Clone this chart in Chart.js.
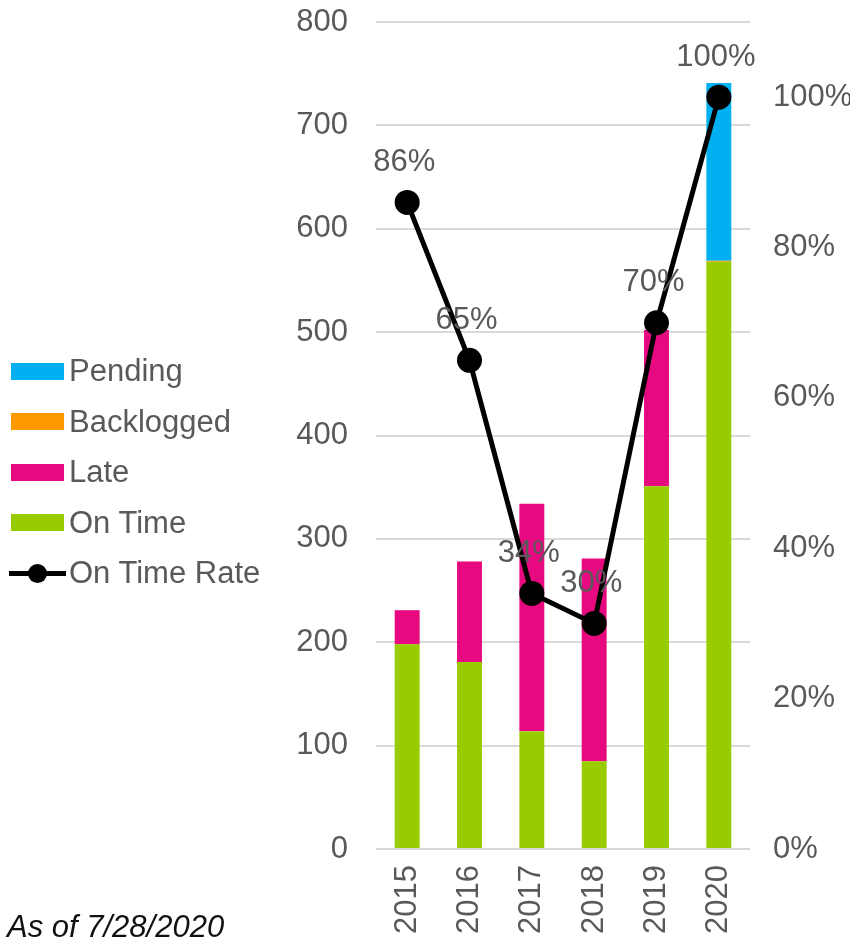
<!DOCTYPE html>
<html>
<head>
<meta charset="utf-8">
<script src="https://cdn.jsdelivr.net/npm/chart.js@4.4.1/dist/chart.umd.min.js"></script>
<style>
    html, body { margin: 0; padding: 0; background: #fff; overflow: hidden; }
    #wrap { position: relative; width: 861px; height: 943px; overflow: hidden; font-family: "Liberation Sans", Arial, sans-serif; }
    #chart { position: absolute; left: 0; top: 0; }
    #legend { position: absolute; left: 9px; top: 346px; }
    .item { height: 50.5px; display: flex; align-items: center; font-size: 31px; color: #595959; }
    .box { width: 53px; height: 17px; margin: 0 5px 0 2px; }
    .lineKey { position: relative; width: 57px; height: 17px; margin-right: 3px; }
    .lineKey .ln { position: absolute; left: 0; right: 0; top: 6px; height: 5px; background: #000; }
    .lineKey .dot { position: absolute; left: 19px; top: -1px; width: 19px; height: 19px; border-radius: 50%; background: #000; }
    #note { position: absolute; left: 7px; top: 911px; font-size: 31px; line-height: 31px; font-style: italic; color: #111; }
</style>
</head>
<body>
<div id="wrap">
    <canvas id="chart" width="861" height="943"></canvas>
    <div id="legend"></div>
    <div id="note">As of 7/28/2020</div>
</div>
<script>
const years = ["2015", "2016", "2017", "2018", "2019", "2020"];
const onTime = [198, 181, 114, 85, 351, 568];
const late = [33, 97, 220, 196, 151, 0];
const backlogged = [0, 0, 0, 0, 0, 1];
const pending = [0, 0, 0, 0, 0, 172];
const onTimeRate = [86, 65, 34, 30, 70, 100];

const tickColor = "#595959";
const font = { family: "'Liberation Sans', Arial, sans-serif", size: 31 };

// percentage labels above the line points
const rateLabels = {
    id: "rateLabels",
    afterDatasetsDraw(chart) {
        const ctx = chart.ctx;
        const meta = chart.getDatasetMeta(4);
        ctx.save();
        ctx.font = "31px 'Liberation Sans', Arial, sans-serif";
        ctx.fillStyle = tickColor;
        ctx.textAlign = "center";
        ctx.textBaseline = "middle";
        meta.data.forEach(function (pt, i) {
            ctx.fillText(onTimeRate[i] + "%", pt.x - 3, pt.y - 40);
        });
        ctx.restore();
    }
};

// fixed axis sizes, no automatic label padding
function fitV(w) {
    return function (s) { s.width = w; s.paddingTop = 0; s.paddingBottom = 0; };
}

new Chart(document.getElementById("chart").getContext("2d"), {
    type: "bar",
    data: {
        labels: years,
        datasets: [
            { label: "On Time", data: onTime, backgroundColor: "#99cc00", order: 1 },
            { label: "Late", data: late, backgroundColor: "#e6097f", order: 1 },
            { label: "Backlogged", data: backlogged, backgroundColor: "#ff9900", order: 1 },
            { label: "Pending", data: pending, backgroundColor: "#00b0f0", order: 1 },
            {
                type: "line",
                label: "On Time Rate",
                data: onTimeRate,
                yAxisID: "y1",
                borderColor: "#000",
                backgroundColor: "#000",
                borderWidth: 5,
                pointRadius: 10,
                pointHoverRadius: 10,
                tension: 0,
                order: 0,
            },
        ],
    },
    options: {
        responsive: false,
        animation: false,
        categoryPercentage: 1,
        barPercentage: 0.4,
        layout: { padding: { left: 280, right: 11, top: 22, bottom: 0 } },
        scales: {
            x: {
                stacked: true,
                grid: { display: false },
                border: { display: false },
                ticks: { color: tickColor, font: font, minRotation: 90, maxRotation: 90, padding: 8 },
                afterFit: function (s) { s.height = 94; s.paddingLeft = 0; s.paddingRight = 0; },
            },
            y: {
                stacked: true,
                min: 0,
                max: 800,
                position: "left",
                grid: { color: "#d9d9d9", lineWidth: 2, drawTicks: false },
                border: { display: false },
                ticks: { stepSize: 100, color: tickColor, font: font, padding: 28 },
                afterFit: fitV(96),
            },
            y1: {
                min: 0,
                max: 110,
                position: "right",
                grid: { display: false },
                border: { display: false },
                ticks: {
                    stepSize: 20,
                    color: tickColor,
                    font: font,
                    padding: 15,
                    callback: function (v) { return v <= 100 ? v + "%" : ""; },
                },
                afterFit: fitV(100),
            },
        },
        plugins: {
            legend: { display: false },
            tooltip: { enabled: false },
        },
    },
    plugins: [rateLabels],
});

// legend on the left, same order as the reference
const legendItems = [
    { name: "Pending", color: "#00b0f0" },
    { name: "Backlogged", color: "#ff9900" },
    { name: "Late", color: "#e6097f" },
    { name: "On Time", color: "#99cc00" },
    { name: "On Time Rate", line: true },
];
const legendEl = document.getElementById("legend");
legendItems.forEach(function (it) {
    const row = document.createElement("div");
    row.className = "item";
    if (it.line) {
        row.innerHTML = '<div class="lineKey"><div class="ln"></div><div class="dot"></div></div>' + it.name;
    } else {
        row.innerHTML = '<div class="box" style="background:' + it.color + '"></div>' + it.name;
    }
    legendEl.appendChild(row);
});
</script>
</body>
</html>
